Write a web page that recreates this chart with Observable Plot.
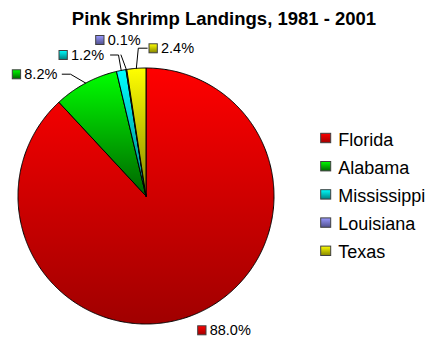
<!DOCTYPE html>
<html>
<head>
<meta charset="utf-8">
<script src="https://cdn.jsdelivr.net/npm/d3@7"></script>
<script src="https://cdn.jsdelivr.net/npm/@observablehq/plot@0.6"></script>
<style>
  html, body { margin: 0; padding: 0; background: #fff; }
  svg { display: block; }
</style>
</head>
<body>
<div id="chart"></div>
<script>
// ---- data ----
const title = "Pink Shrimp Landings, 1981 - 2001";
const states = ["Florida", "Alabama", "Mississippi", "Louisiana", "Texas"];
const shares = [88.0, 8.2, 1.2, 0.1, 2.4];
const shareLabels = ["88.0%", "8.2%", "1.2%", "0.1%", "2.4%"];
const topColors = ["#ff0000", "#00ff00", "#00ffff", "#9999ff", "#ffff00"];
const bottomColors = ["#a00000", "#006400", "#008080", "#50508c", "#858500"];

// ---- layout (pixels) ----
const W = 430, H = 337;
const cx = 145.5, cy = 195.5, R = 128;
const font = "'Liberation Sans', Arial, sans-serif";
// label swatch left x and text baseline y, per state
const labelPos = [[197.7, 334.3], [12.3, 78.3], [59, 59], [95.7, 44], [149, 52.3]];
// leader line start points (null = no leader)
const leaderStart = [null, [[61.7, 73.7], [70, 73.7]], [[110, 54.5], [118, 54.5]], [[120.5, 54.5]], [[146.7, 47.7], [137.8, 47.7]]];
const legendX = 320.7, legendY0 = 145, legendStep = 28.2;

// ---- geometry from data ----
const arcs = d3.pie().sort(null).value(d => d)(shares);
const pol = (a, r) => ({x: cx + r * Math.sin(a), y: cy - r * Math.cos(a)});

const marks = [];
arcs.forEach((a, i) => {
  const pts = [{x: cx, y: cy}];
  const n = Math.max(2, Math.ceil((a.endAngle - a.startAngle) / (Math.PI / 360)));
  for (let k = 0; k <= n; k++) pts.push(pol(a.startAngle + (a.endAngle - a.startAngle) * k / n, R));
  pts.push({x: cx, y: cy});
  marks.push(Plot.line(pts, {x: "x", y: "y", fill: `url(#grad${i})`, stroke: "black", strokeWidth: 1, strokeLinejoin: "round"}));
});

// leader lines
arcs.forEach((a, i) => {
  if (!leaderStart[i]) return;
  const mid = (a.startAngle + a.endAngle) / 2;
  const pts = leaderStart[i].map(([x, y]) => ({x, y})).concat([pol(mid, R)]);
  marks.push(Plot.line(pts, {x: "x", y: "y", stroke: "black", strokeWidth: 1}));
});

// percentage labels with swatches
states.forEach((s, i) => {
  const [sx, by] = labelPos[i];
  marks.push(Plot.rect([{x1: sx, x2: sx + 8.3, y1: by - 8.5, y2: by + 0.5}],
    {x1: "x1", x2: "x2", y1: "y1", y2: "y2", fill: `url(#grad${i})`, stroke: "#404040", strokeWidth: 1}));
  marks.push(Plot.text([{x: sx + 11.5, y: by, t: shareLabels[i]}],
    {x: "x", y: "y", text: "t", textAnchor: "start", lineAnchor: "bottom", fontSize: 14.5, fontFamily: font, fill: "black"}));
});

// legend
states.forEach((s, i) => {
  const by = legendY0 + i * legendStep;
  marks.push(Plot.rect([{x1: legendX, x2: legendX + 10, y1: by - 11.7, y2: by - 2.3}],
    {x1: "x1", x2: "x2", y1: "y1", y2: "y2", fill: `url(#grad${i})`, stroke: "#404040", strokeWidth: 1}));
  marks.push(Plot.text([{x: legendX + 17, y: by, t: s}],
    {x: "x", y: "y", text: "t", textAnchor: "start", lineAnchor: "bottom", fontSize: 18, fontFamily: font, fill: "black"}));
});

// title
marks.push(Plot.text([{x: 223.5, y: 24, t: title}],
  {x: "x", y: "y", text: "t", textAnchor: "middle", lineAnchor: "bottom", fontSize: 18.5, fontWeight: "bold", fontFamily: font, fill: "black"}));

const svg = Plot.plot({
  width: W, height: H,
  marginTop: 0, marginRight: 0, marginBottom: 0, marginLeft: 0,
  x: {domain: [0, W], axis: null},
  y: {domain: [H, 0], axis: null},
  style: {background: "white", fontFamily: font},
  marks
});

// gradient definitions
const defs = d3.select(svg).insert("defs", ":first-child");
topColors.forEach((c, i) => {
  const g = defs.append("linearGradient").attr("id", `grad${i}`)
    .attr("x1", 0).attr("y1", 0).attr("x2", 0).attr("y2", 1);
  g.append("stop").attr("offset", "0%").attr("stop-color", c);
  g.append("stop").attr("offset", "100%").attr("stop-color", bottomColors[i]);
});

document.getElementById("chart").appendChild(svg);
</script>
</body>
</html>
